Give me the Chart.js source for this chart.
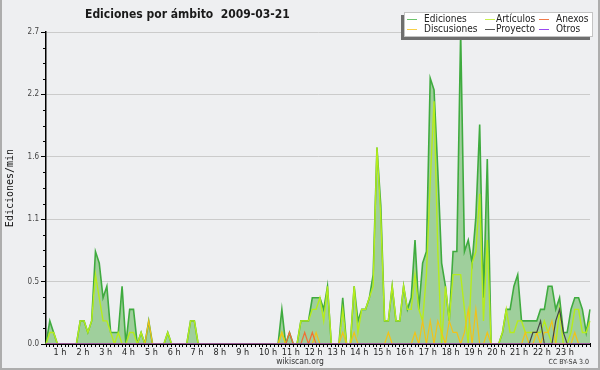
<!DOCTYPE html>
<html><head><meta charset="utf-8">
<script src="https://cdn.jsdelivr.net/npm/chart.js@4.4.1/dist/chart.umd.min.js"></script>
<style>html,body{margin:0;padding:0;background:#eeeff1;}canvas{display:block}</style>
</head><body>
<canvas id="c" width="600" height="370"></canvas>
<script>
// ---- data (edits per minute, 10-minute bins, 00:00 .. 23:50) ----
const hourLabels = ['1 h','2 h','3 h','4 h','5 h','6 h','7 h','8 h','9 h','10 h','11 h','12 h','13 h','14 h','15 h','16 h','17 h','18 h','19 h','20 h','21 h','22 h','23 h'];
const yTickValues = [0, 0.54, 1.08, 1.62, 2.16, 2.7];
const yTickLabels = ['0.0','0.5','1.1','1.6','2.2','2.7'];
const seriesNames = ['Ediciones','Artículos','Anexos','Discusiones','Proyecto','Otros'];

const ediciones = [
 0,0.2,0.1,0,0,0,  0,0,0,0.2,0.2,0.1,  0.2,0.8,0.7,0.4,0.5,0.1,  0.1,0.1,0.5,0,0.3,0.3,
 0,0.1,0,0.2,0,0,  0,0,0.1,0,0,0,  0,0,0.2,0.2,0,0,  0,0,0,0,0,0,
 0,0,0,0,0,0,  0,0,0,0,0,0,  0,0,0.3,0,0.1,0,  0,0.2,0.2,0.2,0.4,0.4,
 0.4,0.3,0.5,0,0,0,  0.4,0,0,0.5,0.2,0.3,  0.3,0.4,0.6,1.7,1.2,0.2,  0.2,0.5,0.2,0.2,0.5,0.3,
 0.4,0.9,0.3,0.7,0.8,2.3,  2.2,1.5,0.7,0.5,0.2,0.8,  0.8,2.7,0.8,0.9,0.7,1.1,  1.9,0.4,1.6,0,0,0,
 0.1,0.3,0.3,0.5,0.6,0.2,  0.2,0.2,0.2,0.2,0.3,0.3,  0.5,0.5,0.3,0.4,0.1,0.1,  0.3,0.4,0.4,0.3,0.1,0.3
];
const articulos = [
 0,0.1,0.1,0,0,0,  0,0,0,0.2,0.2,0.1,  0.2,0.6,0.4,0.2,0.2,0.1,  0,0.1,0,0,0.1,0.1,
 0,0.1,0,0,0,0,  0,0,0.1,0,0,0,  0,0,0.2,0.2,0,0,  0,0,0,0,0,0,
 0,0,0,0,0,0,  0,0,0,0,0,0,  0,0,0.1,0,0,0,  0,0.2,0.2,0.2,0.3,0.3,
 0.4,0.2,0.5,0,0,0,  0.3,0,0,0.5,0.1,0.3,  0.3,0.4,0.5,1.7,1.1,0.2,  0.2,0.5,0.2,0.2,0.5,0.3,
 0.3,0.6,0.3,0.2,0.6,1.4,  2.1,0.8,0,0.5,0.2,0.6,  0.6,0.6,0.3,0,0.7,0.8,  1.3,0.2,0.9,0,0,0,
 0.1,0.3,0.1,0.1,0.2,0.2,  0.1,0.1,0.1,0.1,0.1,0.2,  0.1,0,0,0.3,0,0,  0.1,0.3,0.3,0.1,0.1,0.2
];
const discusiones = [
 0,0,0,0,0,0,  0,0,0,0,0,0,  0,0,0,0,0,0,  0,0,0,0,0,0,
 0,0,0,0.2,0,0,  0,0,0,0,0,0,  0,0,0,0,0,0,  0,0,0,0,0,0,
 0,0,0,0,0,0,  0,0,0,0,0,0,  0,0,0.1,0,0,0,  0,0,0,0,0,0.1,
 0,0,0,0,0,0,  0.1,0,0,0.1,0,0,  0,0,0,0,0,0,  0.1,0,0,0,0,0,
 0,0.1,0,0.2,0,0.2,  0,0.2,0.1,0,0.2,0.1,  0.1,0,0.1,0.3,0,0.3,  0,0,0.1,0,0,0,
 0,0,0,0,0,0,  0.1,0,0,0.1,0,0.1,  0.1,0.2,0,0,0,0,  0,0.1,0,0,0,0
];
const anexos = [
 0,0,0,0,0,0,  0,0,0,0,0,0,  0,0,0,0,0,0,  0,0,0,0,0,0,
 0,0,0,0,0,0,  0,0,0,0,0,0,  0,0,0,0,0,0,  0,0,0,0,0,0,
 0,0,0,0,0,0,  0,0,0,0,0,0,  0,0,0,0,0.1,0,  0,0,0.1,0,0.1,0,
 0,0,0,0,0,0,  0,0,0,0,0,0,  0,0,0,0,0,0,  0,0,0,0,0,0,
 0,0,0,0,0,0,  0,0,0,0,0,0,  0,0,0,0,0,0,  0,0,0,0,0,0,
 0,0,0,0,0,0,  0,0,0,0,0,0,  0,0,0,0,0,0,  0,0,0,0,0,0
];
const proyecto = [
 0,0,0,0,0,0,  0,0,0,0,0,0,  0,0,0,0,0,0,  0,0,0,0,0,0,
 0,0,0,0,0,0,  0,0,0,0,0,0,  0,0,0,0,0,0,  0,0,0,0,0,0,
 0,0,0,0,0,0,  0,0,0,0,0,0,  0,0,0,0,0,0,  0,0,0,0,0,0,
 0,0,0,0,0,0,  0,0,0,0,0,0,  0,0,0,0,0,0,  0,0,0,0,0,0,
 0,0,0,0,0,0,  0,0,0,0,0,0,  0,0,0,0,0,0,  0,0,0,0,0,0,
 0,0,0,0,0,0,  0,0,0.1,0.1,0.2,0,  0,0,0.2,0.3,0.1,0,  0,0,0,0,0,0
];
const otros = [
 0,0,0,0,0,0,  0,0,0,0,0,0,  0,0,0,0,0,0,  0,0,0,0,0,0,
 0,0,0,0,0,0,  0,0,0,0,0,0,  0,0,0,0,0,0,  0,0,0,0,0,0,
 0,0,0,0,0,0,  0,0,0,0,0,0,  0,0,0,0,0,0,  0,0,0,0,0,0,
 0,0,0,0,0,0,  0,0,0,0,0,0,  0,0,0,0,0,0,  0,0,0,0,0,0,
 0,0,0,0,0,0,  0,0,0,0,0,0,  0,0,0,0,0,0,  0,0,0,0,0,0,
 0,0,0,0,0,0,  0,0,0,0,0,0,  0,0,0,0,0,0,  0,0,0,0,0,0
];
// category labels: 10-minute slots
const times = [];
for (let h = 0; h < 24; h++) for (let m = 0; m < 60; m += 10) times.push(String(h).padStart(2,'0') + ':' + String(m).padStart(2,'0'));

const FONT = '"DejaVu Sans Condensed", "DejaVu Sans", sans-serif';
const BG = '#eeeff1';
const COLORS = { ed: '#3fab3f', ar: '#b6ec1c', an: '#f07034', di: '#f2c218', pr: '#444444', ot: '#a040f0' };

function hourLabelFor(i) {
  if ((i + 4) % 6 !== 0) return '';
  const h = (i + 4) / 6;
  return (h >= 1 && h <= hourLabels.length) ? hourLabels[h - 1] : '';
}

const legendLayout = [
  {name: 'Ediciones', color: '#6cc46c', sx: 407, tx: 424, y: 19},
  {name: 'Artículos', color: '#c8f050', sx: 485, tx: 496, y: 19},
  {name: 'Anexos', color: '#f07a4a', sx: 539, tx: 556, y: 19},
  {name: 'Discusiones', color: '#f8d048', sx: 407, tx: 424, y: 29},
  {name: 'Proyecto', color: '#555555', sx: 485, tx: 496, y: 29},
  {name: 'Otros', color: '#9a48f0', sx: 539, tx: 556, y: 29}
];

const decor = {
  id: 'decor',
  beforeDraw(chart) {
    const c = chart.ctx;
    c.save(); c.fillStyle = BG; c.fillRect(0, 0, chart.width, chart.height); c.restore();
  },
  afterDraw(chart) {
    const c = chart.ctx, ys = chart.scales.y, left = chart.chartArea.left;
    c.save();
    // minor y ticks
    c.strokeStyle = '#000'; c.lineWidth = 1;
    for (let k = 0; k < yTickValues.length - 1; k++) {
      const a = yTickValues[k], b = yTickValues[k + 1];
      for (let m = 1; m < 4; m++) {
        const y = Math.round(ys.getPixelForValue(a + (b - a) * m / 4)) + 0.5;
        c.beginPath(); c.moveTo(left - 3, y); c.lineTo(left, y); c.stroke();
      }
    }
    // title
    c.fillStyle = '#1a1a1a'; c.font = 'bold 12px ' + FONT;
    c.textAlign = 'left'; c.textBaseline = 'alphabetic';
    c.fillText('Ediciones por ámbito  2009-03-21', 85, 18);
    // legend box with shadow
    c.fillStyle = '#6e6e6e'; c.fillRect(401, 15, 189, 25);
    c.fillStyle = '#ffffff'; c.fillRect(404, 12, 189, 25);
    c.strokeStyle = '#c4c4c4'; c.lineWidth = 1; c.strokeRect(404.5, 12.5, 188, 24);
    c.font = '10px ' + FONT; c.textBaseline = 'middle';
    legendLayout.forEach(it => {
      c.strokeStyle = it.color; c.lineWidth = 1;
      c.beginPath(); c.moveTo(it.sx, it.y + 0.5); c.lineTo(it.sx + 10, it.y + 0.5); c.stroke();
      c.fillStyle = '#222'; c.fillText(it.name, it.tx, it.y + 0.5);
    });
    // footer
    c.textBaseline = 'alphabetic';
    c.fillStyle = '#333'; c.font = '8.5px ' + FONT; c.textAlign = 'center';
    c.fillText('wikiscan.org', 300, 364);
    c.font = '7px ' + FONT; c.textAlign = 'right';
    c.fillText('CC BY-SA 3.0', 589, 364);
    // frame
    c.fillStyle = '#adadad';
    c.fillRect(0, 0, 2, chart.height);
    c.fillRect(chart.width - 2, 0, 2, chart.height);
    c.fillRect(0, chart.height - 2, chart.width, 2);
    c.restore();
  }
};

const mk = (label, data, color, order, width, fill) => ({
  label, data, borderColor: color, borderWidth: width, pointRadius: 0, tension: 0,
  fill: fill ? 'origin' : false, backgroundColor: fill || 'transparent', order
});

new Chart(document.getElementById('c'), {
  type: 'line',
  data: {
    labels: times,
    datasets: [
      mk(seriesNames[0], ediciones, COLORS.ed, 6, 1.6, '#9fcf9c'),
      mk(seriesNames[1], articulos, COLORS.ar, 5, 1.4),
      mk(seriesNames[3], discusiones, COLORS.di, 4, 1.2),
      mk(seriesNames[2], anexos, COLORS.an, 3, 1.2),
      mk(seriesNames[4], proyecto, COLORS.pr, 2, 1.2),
      mk(seriesNames[5], otros, COLORS.ot, 1, 1.2)
    ]
  },
  options: {
    responsive: false, animation: false, devicePixelRatio: 1,
    layout: { padding: { left: 0, right: 10, top: 32, bottom: 12 } },
    plugins: { legend: { display: false }, title: { display: false }, tooltip: { enabled: false } },
    scales: {
      x: {
        type: 'category',
        afterFit: s => { s.height = 14; },
        ticks: { autoSkip: false, maxRotation: 0, minRotation: 0, align: 'start', padding: 0,
                 callback: (v, i) => hourLabelFor(i), font: { family: FONT, size: 9 }, color: '#1e1e1e' },
        grid: { drawOnChartArea: false, drawTicks: true, tickLength: 3, tickColor: '#000', tickWidth: 1 },
        border: { color: '#000', width: 2 }
      },
      y: {
        min: 0, max: 2.7,
        afterBuildTicks: s => { s.ticks = yTickValues.map(v => ({ value: v })); },
        afterFit: s => { s.width = 46; },
        ticks: { callback: (v, i) => yTickLabels[i], font: { family: FONT, size: 8 }, color: '#444', padding: 2 },
        grid: { color: '#cbcbcb', lineWidth: 1, tickColor: '#000', tickLength: 5 },
        border: { color: '#000', width: 1.5 },
        title: { display: true, text: 'Ediciones/min', color: '#111',
                 font: { family: '"DejaVu Sans Mono", monospace', size: 10 }, padding: { top: 4, bottom: 0 } }
      }
    }
  },
  plugins: [decor]
});
</script>
</body></html>
